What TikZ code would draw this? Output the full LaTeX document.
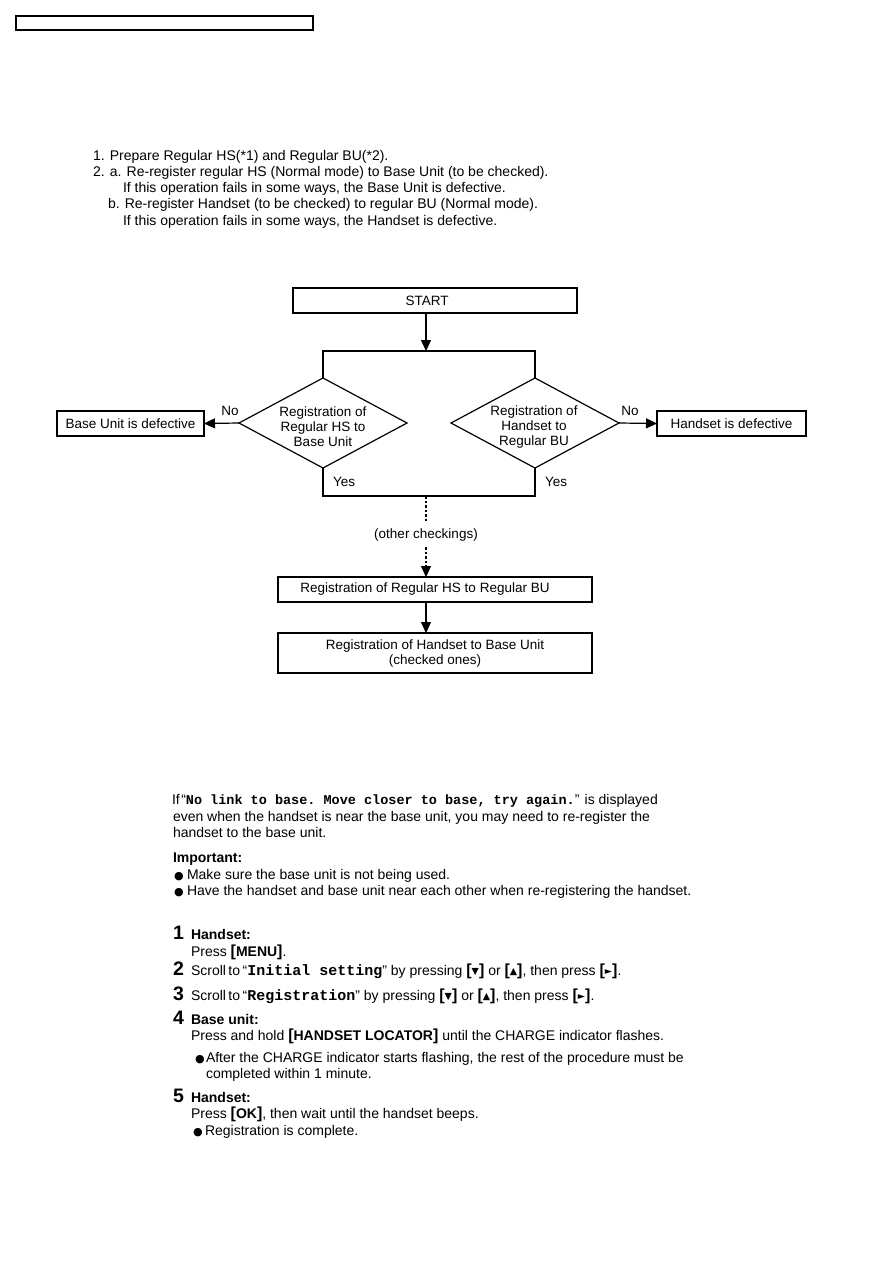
\documentclass[tikz,border=0pt]{standalone}
\usepackage{fontspec}
\setmainfont{Liberation Sans}
\setmonofont{Liberation Mono}
\newfontfamily\dejavu{DejaVu Sans}
\usetikzlibrary{arrows.meta,shapes.geometric}
\newcommand\mykey[1]{{\bfseries\fontsize{16}{16}\selectfont[}{\bfseries #1}{\bfseries\fontsize{16}{16}\selectfont]}}
\newcommand\mytri[1]{\raisebox{0.5pt}{\dejavu\fontsize{9.5}{8}\selectfont #1}}
\newcommand\mono[1]{{\ttfamily\bfseries\fontsize{15}{16}\selectfont #1}}
\newcommand\mybul{{\dejavu\fontsize{11}{11}\selectfont ●}}
\begin{document}
\begin{tikzpicture}[x=1pt,y=-1pt,
  every node/.style={inner sep=0pt, outer sep=0pt},
  txt/.style={anchor=base west, font=\fontsize{14}{16}\selectfont},
  btxt/.style={anchor=base west, font=\fontsize{14}{17}\selectfont},
  num/.style={anchor=base west, font=\bfseries\fontsize{19.5}{20}\selectfont},
  box/.style={draw, line width=1.2pt, rectangle, inner sep=0pt, font=\fontsize{13.5}{15}\selectfont, align=center},
  dia/.style={draw, line width=1.2pt, diamond, minimum width=168pt, minimum height=90pt, inner sep=0pt},
  lbl/.style={font=\fontsize{13.5}{15}\selectfont, align=center},
  conn/.style={line width=1.2pt},
  arr/.style={conn, -{Triangle[length=11pt,width=10pt]}},
  dots/.style={dash pattern=on 2.5pt off 2pt},
]
\useasboundingbox (0,0) rectangle (893,1263);
\fill[white] (0,0) rectangle (893,1263);

% header box
\node[box, minimum width=297pt, minimum height=14pt] (hdr) at (164.5,23) {};

% intro text
\node[txt] (i1) at (93,160) {1. Prepare Regular HS(*1) and Regular BU(*2).};
\node[txt] (i2) at (93,176.5) {2. a. Re-register regular HS (Normal mode) to Base Unit (to be checked).};
\node[txt] (i3) at (123,192.5) {If this operation fails in some ways, the Base Unit is defective.};
\node[txt] (i4) at (108,208.5) {b. Re-register Handset (to be checked) to regular BU (Normal mode).};
\node[txt] (i5) at (123,225) {If this operation fails in some ways, the Handset is defective.};

% flowchart
\node[box, minimum width=284pt, minimum height=25pt] (start) at (435,300.5) {};
\node[lbl] (startl) at (427,300.5) {START};
\coordinate (split) at (426,351);
\coordinate (join) at (426,496);
\node[dia] (d1) at (323,423) {};
\node[lbl] (d1l) at (323,427) {Registration of\\Regular HS to\\Base Unit};
\node[dia] (d2) at (535,423) {};
\node[lbl] (d2l) at (534,427) {Registration of\\Handset to\\Regular BU};
\node[box, minimum width=147pt, minimum height=25pt] (bud) at (130.5,423.5) {Base Unit is defective};
\node[box, minimum width=149pt, minimum height=25pt] (hsd) at (731.5,423.5) {Handset is defective};
\node[lbl] (no1) at (230,411) {No};
\node[lbl] (no2) at (630,411) {No};
\node[lbl, anchor=west] (yes1) at (333,482) {Yes};
\node[lbl, anchor=west] (yes2) at (545,482) {Yes};
\node[lbl] (oc) at (426,535) {(other checkings)};
\node[box, minimum width=314pt, minimum height=25pt] (r1) at (435,589.5) {};
\node[lbl] (r1l) at (425,589.5) {Registration of Regular HS to Regular BU};
\node[box, minimum width=314pt, minimum height=40pt] (r2) at (435,653) {Registration of Handset to Base Unit\\(checked ones)};

\draw[arr] (start.south -| split) -- (split);
\draw[conn] (d1.north) |- (split) -| (d2.north);
\draw[arr] (d1.west) -- (bud.east);
\draw[arr] (d2.east) -- (hsd.west);
\draw[conn] (d1.south) |- (join) -| (d2.south);
\draw[conn, dots] (join) -- ([yshift=6pt]oc.north);
\draw[arr, dots] ([yshift=-6pt]oc.south) -- (r1.north -| split);
\draw[arr] (r1.south -| split) -- (r2.north -| split);

% bottom text
\node[btxt] (b1) at (172,804) {If\hspace{1.5pt}“{\ttfamily\bfseries\fontsize{13.5}{14}\selectfont No link to base. Move closer to base, try again.}” is displayed};
\node[btxt] (b2) at (173,821) {even when the handset is near the base unit, you may need to re-register the};
\node[btxt] (b3) at (173,837) {handset to the base unit.};
\node[btxt] (imp) at (173,862) {\bfseries Important:};
\node[btxt] (bu1) at (174,879) {\mybul};
\node[btxt] (b4) at (187,879) {Make sure the base unit is not being used.};
\node[btxt] (bu2) at (174,895) {\mybul};
\node[btxt] (b5) at (187,895) {Have the handset and base unit near each other when re-registering the handset.};

\node[num] (n1) at (173,939) {1};
\node[btxt] (s1a) at (191,939) {\bfseries Handset:};
\node[btxt] (s1b) at (191,956) {Press \mykey{MENU}.};
\node[num] (n2) at (173,975) {2};
\node[btxt] (s2) at (191,975) {Scroll\hspace{2.5pt}to\hspace{2.5pt}“\mono{Initial setting}” by pressing \mykey{\mytri{▼}} or \mykey{\mytri{▲}}, then press \mykey{\mytri{►}}.};
\node[num] (n3) at (173,1000) {3};
\node[btxt] (s3) at (191,1000) {Scroll\hspace{2.5pt}to\hspace{2.5pt}“\mono{Registration}” by pressing \mykey{\mytri{▼}} or \mykey{\mytri{▲}}, then press \mykey{\mytri{►}}.};
\node[num] (n4) at (173,1024) {4};
\node[btxt] (s4a) at (191,1024) {\bfseries Base unit:};
\node[btxt] (s4b) at (191,1040) {Press and hold \mykey{HANDSET LOCATOR} until the CHARGE indicator flashes.};
\node[btxt] (bu3) at (195,1062) {\mybul};
\node[btxt] (s4c) at (206,1062) {After the CHARGE indicator starts flashing, the rest of the procedure must be};
\node[btxt] (s4d) at (206,1078) {completed within 1 minute.};
\node[num] (n5) at (173,1102) {5};
\node[btxt] (s5a) at (191,1102) {\bfseries Handset:};
\node[btxt] (s5b) at (191,1118) {Press \mykey{OK}, then wait until the handset beeps.};
\node[btxt] (bu4) at (193,1135) {\mybul};
\node[btxt] (s5c) at (205,1135) {Registration is complete.};
\end{tikzpicture}
\end{document}
